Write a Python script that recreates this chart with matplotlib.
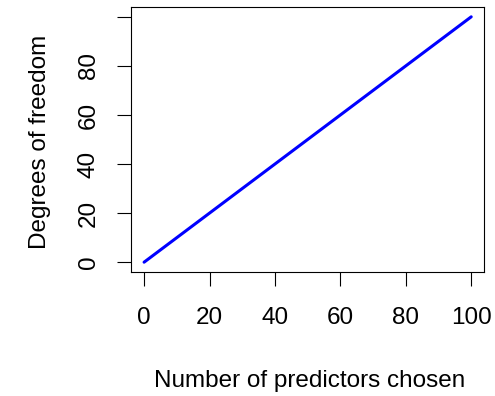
import matplotlib
matplotlib.use("Agg")
import matplotlib.pyplot as plt

plt.rcParams["font.family"] = ["Liberation Sans", "DejaVu Sans"]

# Data: degrees of freedom as a function of the number of predictors chosen
predictors = [0, 100]
dof = [0, 100]

x_ticks = [0, 20, 40, 60, 80, 100]
x_tick_labels = ["0", "20", "40", "60", "80", "100"]
y_ticks = [0, 20, 40, 60, 80, 100]
y_tick_labels = ["0", "20", "40", "60", "80", ""]

W, H = 495, 396
fig = plt.figure(figsize=(W / 100, H / 100), dpi=100)
ax = fig.add_axes([131 / W, 1 - 272 / H, (484.3 - 131) / W, (272 - 7) / H])

ax.plot(predictors, dof, color="#0000ff", lw=2.2, solid_capstyle="round")

ax.set_xlim(-4, 104)
ax.set_ylim(-4, 104)

for s in ax.spines.values():
    s.set_linewidth(0.8)
    s.set_color("black")

fs = 17.5
ax.set_xticks(x_ticks)
ax.set_xticklabels(x_tick_labels, fontsize=fs)
ax.set_yticks(y_ticks)
ax.set_yticklabels(y_tick_labels, fontsize=fs, rotation=90, va="center")
ax.tick_params(axis="both", direction="out", length=10.4, width=0.8, color="black")
ax.tick_params(axis="x", pad=15)
ax.tick_params(axis="y", pad=12)

fig.text(310 / W, 1 - 386.7 / H, "Number of predictors chosen", fontsize=fs,
         ha="center", va="baseline")
fig.text(40 / W, 1 - 141.5 / H, "Degrees of freedom", fontsize=fs,
         ha="center", va="center", rotation=90)

fig.savefig("out.png", dpi=100)
